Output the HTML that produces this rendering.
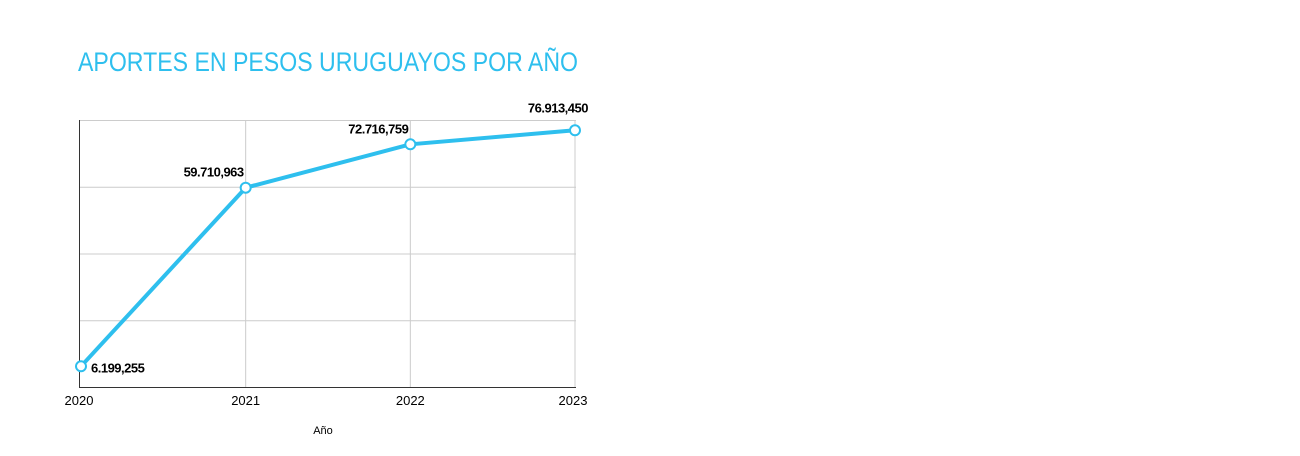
<!DOCTYPE html>
<html><head><meta charset="utf-8"><style>
body{margin:0;background:#fff;width:1300px;height:451px;overflow:hidden;font-family:"Liberation Sans",sans-serif}
</style></head><body>
<svg width="1300" height="451">
<text x="78" y="71" font-size="27" fill="#2ebfee" textLength="500" lengthAdjust="spacingAndGlyphs">APORTES EN PESOS URUGUAYOS POR AÑO</text>
<g id="grid"></g>
<line x1="79.5" y1="120" x2="79.5" y2="387" stroke="#333" stroke-width="1"/>
<line x1="79" y1="387.5" x2="576" y2="387.5" stroke="#333" stroke-width="1"/>
<g id="series"></g>
<text x="323" y="434" font-size="11" text-anchor="middle" fill="#000">Año</text>
</svg>
<script>
const years=["2020","2021","2022","2023"];
const values=[6199255,59710963,72716759,76913450];
const valueLabels=["6.199,255","59.710,963","72.716,759","76.913,450"];
const yTicks=[0,20000000,40000000,60000000,80000000];
const NS="http://www.w3.org/2000/svg";
const x0=81,x1=575,yMin=0,yMax=80000000,yb=387,yt=120;
const xs=i=>x0+(x1-x0)*i/(years.length-1);
const ys=v=>yb-(v-yMin)/(yMax-yMin)*(yb-yt);
function mk(t,a,p){const e=document.createElementNS(NS,t);for(const k in a)e.setAttribute(k,a[k]);p.appendChild(e);return e;}
const grid=document.getElementById('grid'),ser=document.getElementById('series');
yTicks.forEach(v=>{const l=mk('line',{x1:79,x2:576,y1:ys(v)+0.5,y2:ys(v)+0.5,stroke:'#ccc','stroke-width':1},grid);

});
years.forEach((y,i)=>{if(i>0){const l=mk('line',{x1:xs(i),x2:xs(i),y1:120,y2:387,stroke:'#ccc','stroke-width':1},grid);

}
const t=mk('text',{x:i==0?xs(i)-2:(i==years.length-1?xs(i)-2:xs(i)),y:405,'font-size':13,'text-anchor':'middle',fill:'#000'},grid);t.textContent=y;

});
const pl=mk('polyline',{points:values.map((v,i)=>xs(i)+','+ys(v)).join(' '),fill:'none',stroke:'#2ebfee','stroke-width':4,'stroke-linejoin':'round'},ser);


values.forEach((v,i)=>{const c=mk('circle',{cx:xs(i),cy:ys(v),r:5,fill:'#fff',stroke:'#2ebfee','stroke-width':2},ser);


let tx,ty,anc;
if(i==0){tx=xs(i)+10;ty=ys(v)+6;anc='start';}else{tx=xs(i)-2;ty=ys(v)-11;anc='end';if(i==years.length-1){tx=xs(i)+13;ty=ys(v)-18;}}
const t=mk('text',{x:tx,y:ty,'font-size':13,'font-weight':'bold','text-anchor':anc,fill:'#000','letter-spacing':'-0.5'},ser);t.textContent=valueLabels[i];

});
</script>
</body></html>
